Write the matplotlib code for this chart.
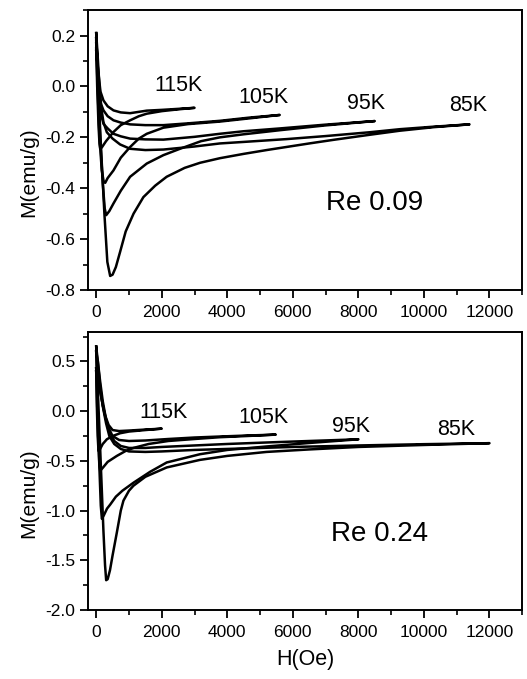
import matplotlib
matplotlib.use('Agg')
import matplotlib.pyplot as plt
from matplotlib.ticker import MultipleLocator

plt.rcParams['font.family'] = ['Liberation Sans', 'DejaVu Sans']

temps = ['85K', '95K', '105K', '115K']

# Re 0.09 loops: virgin branch from H=0 up to Hmax, then back down to H=0
h_a85 = [0, 60, 150, 250, 340, 426, 500, 600, 730, 900, 1140, 1440, 1800, 2150, 2700, 3170, 3775, 4500, 5200,
         5800, 6500, 7230, 8340, 9260, 10300, 11390,
         10300, 9260, 8340, 7000, 5800, 4500, 3775, 3000, 2050, 1500, 1035, 730, 500, 325, 220, 150, 90, 40, 0]
m_a85 = [0.21, 0.0, -0.25, -0.5, -0.69, -0.745, -0.74, -0.71, -0.65, -0.57, -0.50, -0.435, -0.39, -0.355, -0.32,
         -0.30, -0.282, -0.265, -0.250, -0.238, -0.224, -0.21, -0.19, -0.174, -0.16, -0.149,
         -0.158, -0.168, -0.180, -0.195, -0.207, -0.218, -0.224, -0.236, -0.248, -0.25, -0.245, -0.228, -0.205,
         -0.18, -0.14, -0.08, 0.02, 0.13, 0.21]

h_a95 = [0, 50, 120, 200, 260, 305, 400, 527, 750, 1035, 1543, 2050, 2557, 3200, 3775, 4500, 5600, 7000, 8500,
         7000, 5600, 4500, 3775, 3000, 2050, 1500, 1035, 750, 527, 350, 222, 150, 90, 40, 0]
m_a95 = [0.19, 0.0, -0.2, -0.38, -0.48, -0.506, -0.49, -0.46, -0.41, -0.355, -0.303, -0.27, -0.245, -0.215,
         -0.200, -0.188, -0.172, -0.153, -0.136,
         -0.150, -0.165, -0.176, -0.186, -0.198, -0.209, -0.208, -0.205, -0.196, -0.186, -0.165, -0.147, -0.11,
         -0.02, 0.1, 0.19]

h_a105 = [0, 40, 100, 170, 230, 274, 350, 527, 750, 1035, 1300, 1543, 2050, 2800, 3775, 4700, 5600,
          4700, 3775, 2800, 2050, 1500, 1035, 750, 527, 350, 222, 150, 90, 40, 0]
m_a105 = [0.18, 0.0, -0.2, -0.33, -0.375, -0.379, -0.36, -0.33, -0.28, -0.238, -0.205, -0.186, -0.162, -0.148,
          -0.138, -0.125, -0.112,
          -0.122, -0.135, -0.145, -0.152, -0.152, -0.149, -0.142, -0.133, -0.117, -0.094, -0.07, -0.02, 0.08, 0.17]

h_a115 = [0, 30, 70, 100, 122, 170, 300, 527, 750, 1035, 1300, 1543, 2000, 2500, 3000,
          2500, 2000, 1543, 1035, 750, 527, 350, 222, 130, 70, 30, 0]
m_a115 = [0.15, 0.0, -0.15, -0.225, -0.245, -0.24, -0.215, -0.179, -0.152, -0.133, -0.117, -0.107, -0.097,
          -0.09, -0.084,
          -0.088, -0.092, -0.095, -0.105, -0.102, -0.094, -0.078, -0.055, -0.02, 0.05, 0.10, 0.14]

# Re 0.24 loops
h_b85 = [0, 50, 100, 160, 220, 270, 304, 350, 420, 500, 630, 750, 831, 1000, 1136, 1500, 2152, 3167, 4000, 5197,
         6500, 8000, 10000, 12000,
         10000, 8000, 6000, 4000, 3000, 2000, 1500, 1000, 750, 550, 400, 300, 200, 120, 50, 0]
m_b85 = [0.65, 0.2, -0.2, -0.7, -1.2, -1.55, -1.70, -1.69, -1.6, -1.45, -1.22, -1.0, -0.90, -0.80, -0.75, -0.66,
         -0.566, -0.49, -0.45, -0.41, -0.385, -0.36, -0.34, -0.322,
         -0.332, -0.345, -0.36, -0.38, -0.39, -0.405, -0.41, -0.405, -0.38, -0.33, -0.25, -0.12, 0.05, 0.25, 0.5,
         0.65]

h_b95 = [0, 40, 90, 140, 173, 230, 330, 426, 600, 800, 1136, 1644, 2152, 3167, 4000, 5200, 6500, 8000,
         6500, 5200, 4000, 3000, 2000, 1500, 1000, 750, 550, 400, 300, 200, 120, 50, 0]
m_b95 = [0.6, 0.1, -0.5, -0.95, -1.083, -1.05, -0.98, -0.94, -0.86, -0.80, -0.72, -0.61, -0.516, -0.433, -0.39,
         -0.355, -0.32, -0.283,
         -0.3, -0.315, -0.33, -0.345, -0.36, -0.37, -0.37, -0.35, -0.30, -0.2, -0.08, 0.1, 0.3, 0.5, 0.6]

h_b105 = [0, 30, 70, 100, 122, 200, 350, 630, 900, 1136, 1600, 2200, 3000, 3775, 4600, 5480,
          4600, 3775, 3000, 2200, 1500, 1000, 700, 500, 350, 250, 150, 70, 0]
m_b105 = [0.43, 0.05, -0.35, -0.55, -0.60, -0.57, -0.51, -0.45, -0.40, -0.37, -0.33, -0.30, -0.28, -0.262, -0.25,
          -0.236,
          -0.245, -0.255, -0.265, -0.28, -0.295, -0.30, -0.29, -0.25, -0.15, -0.02, 0.15, 0.3, 0.43]

h_b115 = [0, 20, 45, 70, 120, 200, 325, 500, 730, 1000, 1500, 2000,
          1500, 1000, 700, 500, 380, 280, 200, 120, 50, 0]
m_b115 = [0.4, 0.05, -0.25, -0.40, -0.38, -0.33, -0.283, -0.25, -0.222, -0.205, -0.19, -0.176,
          -0.185, -0.195, -0.20, -0.19, -0.14, -0.05, 0.06, 0.2, 0.32, 0.4]

# label spots (H, M)
lab_a_h = [11354, 8219, 5093, 2496]
lab_a_m = [-0.075, -0.068, -0.042, 0.004]
lab_b_h = [10980, 7783, 5093, 2050]
lab_b_m = [-0.183, -0.15, -0.066, -0.016]

fig = plt.figure(figsize=(5.27, 6.79), dpi=100)
ax1 = fig.add_axes([0.167, 0.573, 0.824, 0.412])
ax2 = fig.add_axes([0.167, 0.1016, 0.824, 0.41])

loops_a = [(h_a85, m_a85), (h_a95, m_a95), (h_a105, m_a105), (h_a115, m_a115)]
loops_b = [(h_b85, m_b85), (h_b95, m_b95), (h_b105, m_b105), (h_b115, m_b115)]

panels = [
    (ax1, loops_a, lab_a_h, lab_a_m, 'Re 0.09', 8493, -0.46, (-0.8, 0.3), 0.2, 0.1),
    (ax2, loops_b, lab_b_h, lab_b_m, 'Re 0.24', 8645, -1.233, (-2.0, 0.8), 0.5, 0.25),
]
for ax, loops, lh, lm, name, nx, ny, ylim, ymaj, ymin_ in panels:
    for (h, m) in loops:
        ax.plot(h, m, color='black', lw=1.8, solid_joinstyle='round')
    for t, x, y in zip(temps, lh, lm):
        ax.text(x, y, t, fontsize=15.5, ha='center', va='center')
    ax.text(nx, ny, name, fontsize=20, ha='center', va='center')
    ax.set_xlim(-250, 13000)
    ax.set_ylim(*ylim)
    ax.xaxis.set_major_locator(MultipleLocator(2000))
    ax.xaxis.set_minor_locator(MultipleLocator(1000))
    ax.yaxis.set_major_locator(MultipleLocator(ymaj))
    ax.yaxis.set_minor_locator(MultipleLocator(ymin_))
    ax.tick_params(which='major', direction='out', length=6, width=1.3, labelsize=12.5, pad=3)
    ax.tick_params(which='minor', direction='out', length=3.5, width=1.2)
    ax.tick_params(axis='x', which='major', pad=5)
    for sp in ax.spines.values():
        sp.set_linewidth(1.4)
    ax.set_ylabel('M(emu/g)', fontsize=15)
    ax.yaxis.set_label_coords(-0.115, 0.42)
    ax.set_yticks(ax.get_yticks())
    ax.set_yticklabels(['%.1f' % v for v in ax.get_yticks()])
    ax.set_ylim(*ylim)

ax2.set_xlabel('H(Oe)', fontsize=15.5, labelpad=6)

fig.savefig('out.png', dpi=100)
